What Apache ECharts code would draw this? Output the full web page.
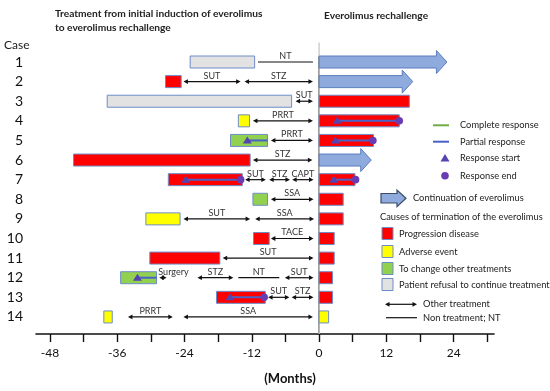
<!DOCTYPE html>
<html>
<head>
<meta charset="utf-8">
<script src="https://cdn.jsdelivr.net/npm/echarts@6/dist/echarts.min.js"></script>
<style>html,body{margin:0;padding:0;background:#fff}#c{width:550px;height:391px}</style>
</head>
<body>
<div id="c"></div>
<script>
// ---------- data ----------
const cases = [1,2,3,4,5,6,7,8,9,10,11,12,13,14];
const xTicks = [-48,-42,-36,-30,-24,-18,-12,-6,0,6,12,18,24,30];
const xTickLabels = [-48,-36,-24,-12,0,12,24];

// everolimus initial treatment (stop) bars, one per case
const stopStart = [-23.0,-27.4,-37.8,-14.4,-15.8,-43.8,-26.9,-11.8,-30.9,-11.7,-30.2,-35.4,-18.3,-38.4];
const stopEnd   = [-11.5,-24.6,-4.9,-12.4,-9.2,-12.3,-13.7,-9.2,-24.8,-8.9,-17.7,-29.0,-9.6,-36.9];
const stopCause = ['refusal','PD','refusal','AE','change','PD','PD','change','AE','PD','PD','change','PD','AE'];

// rechallenge, starting at 0
const rechallengeEnd    = [22.8,16.7,16.1,14.3,9.7,9.3,6.4,4.3,4.3,2.7,2.7,2.4,2.4,1.7];
const rechallengeStatus = ['cont','cont','PD','PD','PD','cont','PD','PD','PD','PD','PD','PD','PD','AE'];

// other treatments (double arrows)
const otherCase  = [2,2,3,4,5,6,7,7,7,8,9,9,10,11,12,12,12,13,13,14,14];
const otherStart = [-24.2,-13.3,-4.2,-11.8,-8.6,-11.8,-13.2,-8.9,-4.8,-8.6,-24.2,-11.4,-8.6,-17.2,-28.5,-21.7,-6.1,-9.1,-4.9,-34.1,-24.2];
const otherEnd   = [-14.0,-1.1,-1.1,-1.1,-1.1,-1.2,-9.5,-5.2,-1.0,-1.0,-12.3,-0.9,-1.0,-1.0,-27.2,-15.3,-1.0,-5.3,-1.0,-26.1,-1.1];
const otherLabel = ['SUT','STZ','SUT','PRRT','PRRT','STZ','SUT','STZ','CAPT','SSA','SUT','SSA','TACE','SUT','Surgery','STZ','SUT','SUT','STZ','PRRT','SSA'];

// non treatment periods
const ntCase  = [1,12];
const ntStart = [-10.9,-14.4];
const ntEnd   = [-1.1,-7.1];
const ntLabel = ['NT','NT'];

// responses (partial)
const respCase   = [4,5,5,7,7,12,13];
const respStart  = [3.2,-12.8,2.9,-23.8,2.6,-32.4,-15.9];
const respEnd    = [14.3,-9.2,9.6,-14.0,6.5,-29.0,-9.8];
const respHasEnd = [true,false,true,true,true,false,true];

// ---------- styles ----------
const FONT = 'Lato, "DejaVu Sans", sans-serif';
const causeFill = {PD:'#ff0000', AE:'#ffff00', change:'#92d050', refusal:'#e2e2e2', cont:'#8faadc'};
const barStroke = '#6d8cc8';
const respColor = '#4a62c8';
const triColor = '#5443b0';
const dotColor = '#6a3cb4';
const BAR_H = 12;

const chart = echarts.init(document.getElementById('c'));

function barItem(params, api) {
  const y = api.value(0), s = api.value(1), e = api.value(2);
  const p0 = api.coord([s, y]), p1 = api.coord([e, y]);
  const cause = params.seriesName === 'stop' ? stopCause[params.dataIndex] : rechallengeStatus[params.dataIndex];
  if (cause === 'cont') {
    const head = 10.5, bh = 6, hh = 11.5;
    const xb = p1[0] - head;
    return {type:'polygon', shape:{points:[[p0[0],p0[1]-bh],[xb,p0[1]-bh],[xb,p0[1]-hh],[p1[0],p0[1]],[xb,p0[1]+hh],[xb,p0[1]+bh],[p0[0],p0[1]+bh]]},
      style:{fill:causeFill.cont, stroke:'#5a7dc0', lineWidth:1}};
  }
  return {type:'rect', shape:{x:p0[0], y:p0[1]-BAR_H/2, width:p1[0]-p0[0], height:BAR_H},
    style:{fill:causeFill[cause], stroke:barStroke, lineWidth:1}};
}

function arrowItem(params, api) {
  const y = api.value(0), s = api.value(1), e = api.value(2);
  const p0 = api.coord([s, y]), p1 = api.coord([e, y]);
  const label = otherLabel[params.dataIndex];
  const yy = p0[1], L = 4.5, W = 2.4;
  const len = p1[0] - p0[0];
  const narrow = len < 12;
  return {type:'group', children:[
    {type:'line', shape:{x1:p0[0]+2, y1:yy, x2:p1[0]-2, y2:yy}, style:{stroke:'#111', lineWidth:1.2}},
    {type:'polygon', shape:{points:[[p0[0],yy],[p0[0]+L,yy-W],[p0[0]+L,yy+W]]}, style:{fill:'#111'}},
    {type:'polygon', shape:{points:[[p1[0],yy],[p1[0]-L,yy-W],[p1[0]-L,yy+W]]}, style:{fill:'#111'}},
    {type:'text', x: narrow ? p0[0]-1 : (p0[0]+p1[0])/2, y: yy-1.5,
      style:{text:label, fill:'#333', font:'9px '+FONT, align: narrow ? 'left' : 'center', verticalAlign:'bottom'}}
  ]};
}

function ntItem(params, api) {
  const y = api.value(0), s = api.value(1), e = api.value(2);
  const p0 = api.coord([s, y]), p1 = api.coord([e, y]);
  return {type:'group', children:[
    {type:'line', shape:{x1:p0[0], y1:p0[1], x2:p1[0], y2:p1[1]}, style:{stroke:'#111', lineWidth:1.2}},
    {type:'text', x:(p0[0]+p1[0])/2, y:p0[1]-1.5, style:{text:ntLabel[params.dataIndex], fill:'#333', font:'9px '+FONT, align:'center', verticalAlign:'bottom'}}
  ]};
}

function respItem(params, api) {
  const y = api.value(0), s = api.value(1), e = api.value(2);
  const p0 = api.coord([s, y]), p1 = api.coord([e, y]);
  const ch = [
    {type:'line', shape:{x1:p0[0], y1:p0[1], x2:p1[0], y2:p1[1]}, style:{stroke:respColor, lineWidth:2}},
    {type:'polygon', shape:{points:[[p0[0],p0[1]-4],[p0[0]+4.5,p0[1]+3],[p0[0]-4.5,p0[1]+3]]}, style:{fill:triColor}}
  ];
  if (respHasEnd[params.dataIndex]) ch.push({type:'circle', shape:{cx:p1[0], cy:p1[1], r:3.8}, style:{fill:dotColor}});
  return {type:'group', children:ch};
}

function zeroLine(params, api) {
  const a = api.coord([0, api.value(0)]), b = api.coord([0, api.value(1)]);
  return {type:'line', shape:{x1:a[0], y1:a[1], x2:b[0], y2:b[1]}, style:{stroke:'#cfcfcf', lineWidth:1.5}};
}

const yMin = 0.745, yMax = 14.87;

// ---------- legend graphics ----------
const LX = 433;
const LF = '9.3px ' + FONT;
const legendText = (x, y, t) => ({type:'text', x, y, style:{text:t, fill:'#222', font:LF, verticalAlign:'middle'}});
const sq = (y, c) => ({type:'rect', shape:{x:382, y:y-6, width:11, height:12}, style:{fill:c, stroke:barStroke, lineWidth:1}});
const graphics = [
  {type:'text', x:55, y:14, style:{text:'Treatment from initial induction of everolimus', fill:'#222', font:'bold 10.2px '+FONT, verticalAlign:'middle'}},
  {type:'text', x:55, y:28, style:{text:'to everolimus rechallenge', fill:'#222', font:'bold 10.2px '+FONT, verticalAlign:'middle'}},
  {type:'text', x:324, y:16, style:{text:'Everolimus rechallenge', fill:'#222', font:'bold 10.2px '+FONT, verticalAlign:'middle'}},
  {type:'text', x:4, y:45, style:{text:'Case', fill:'#222', font:'12px '+FONT, verticalAlign:'middle'}},
  {type:'text', x:290, y:379, style:{text:'(Months)', fill:'#111', font:'bold 13px '+FONT, align:'center', verticalAlign:'middle'}},
  {type:'line', shape:{x1:LX, y1:125.3, x2:449, y2:125.3}, style:{stroke:'#70ad47', lineWidth:2}},
  legendText(460, 125.3, 'Complete response'),
  {type:'line', shape:{x1:LX, y1:141.7, x2:449, y2:141.7}, style:{stroke:respColor, lineWidth:2}},
  legendText(460, 141.7, 'Partial response'),
  {type:'polygon', shape:{points:[[445,154],[449.5,161.5],[440.5,161.5]]}, style:{fill:triColor}},
  legendText(460, 158.3, 'Response start'),
  {type:'circle', shape:{cx:445, cy:175.7, r:3.8}, style:{fill:dotColor}},
  legendText(460, 175.7, 'Response end'),
  {type:'polygon', shape:{points:[[381,193.5],[397,193.5],[397,190],[406,198.3],[397,206.6],[397,203],[381,203]]}, style:{fill:'#8faadc', stroke:'#3b4a66', lineWidth:1.2}},
  legendText(413, 198.3, 'Continuation of everolimus'),
  legendText(380, 217.3, 'Causes of termination of the everolimus'),
  sq(233.5, causeFill.PD), legendText(399, 233.5, 'Progression disease'),
  sq(251.5, causeFill.AE), legendText(399, 251.5, 'Adverse event'),
  sq(268.5, causeFill.change), legendText(399, 268.5, 'To change other treatments'),
  sq(284.5, causeFill.refusal), legendText(399, 284.5, 'Patient refusal to continue treatment'),
  {type:'line', shape:{x1:387, y1:304.3, x2:415, y2:304.3}, style:{stroke:'#111', lineWidth:1.2}},
  {type:'polygon', shape:{points:[[385,304.3],[389.5,301.9],[389.5,306.7]]}, style:{fill:'#111'}},
  {type:'polygon', shape:{points:[[417,304.3],[412.5,301.9],[412.5,306.7]]}, style:{fill:'#111'}},
  legendText(423, 304.3, 'Other treatment'),
  {type:'line', shape:{x1:386, y1:317.7, x2:417, y2:317.7}, style:{stroke:'#111', lineWidth:1.2}},
  legendText(423, 317.7, 'Non treatment; NT')
];

const option = {
  animation:false,
  backgroundColor:'#fff',
  textStyle:{fontFamily:FONT},
  grid:{left:36, right:56, top:57, bottom:57},
  xAxis:{type:'value', min:-50.5, max:31.2,
    axisLine:{show:true, lineStyle:{color:'#111', width:1.6}},
    axisTick:{show:true, customValues:xTicks, length:8, lineStyle:{color:'#111', width:1.4}},
    axisLabel:{customValues:xTickLabels, fontSize:12, color:'#111', margin:13, fontFamily:FONT},
    splitLine:{show:false}},
  yAxis:{type:'value', inverse:true, min:yMin, max:yMax,
    axisLine:{show:true, lineStyle:{color:'#111', width:1.6}},
    axisTick:{show:false},
    axisLabel:{customValues:cases, fontSize:14, color:'#111', margin:13, fontFamily:FONT},
    splitLine:{show:false}},
  graphic:graphics,
  series:[
    {type:'custom', name:'zero', renderItem:zeroLine, clip:false, data:[[0, yMax]], encode:{x:[], y:[0,1]}},
    {type:'custom', name:'stop', renderItem:barItem, clip:false,
      data:cases.map((c,i)=>[c, stopStart[i], stopEnd[i]]), encode:{y:0, x:[1,2]}},
    {type:'custom', name:'rechallenge', renderItem:barItem, clip:false,
      data:cases.map((c,i)=>[c, 0, rechallengeEnd[i]]), encode:{y:0, x:[1,2]}},
    {type:'custom', name:'other', renderItem:arrowItem, clip:false,
      data:otherCase.map((c,i)=>[c, otherStart[i], otherEnd[i]]), encode:{y:0, x:[1,2]}},
    {type:'custom', name:'nt', renderItem:ntItem, clip:false,
      data:ntCase.map((c,i)=>[c, ntStart[i], ntEnd[i]]), encode:{y:0, x:[1,2]}},
    {type:'custom', name:'resp', renderItem:respItem, clip:false,
      data:respCase.map((c,i)=>[c, respStart[i], respEnd[i]]), encode:{y:0, x:[1,2]}}
  ]
};
chart.setOption(option);
</script>
</body>
</html>
